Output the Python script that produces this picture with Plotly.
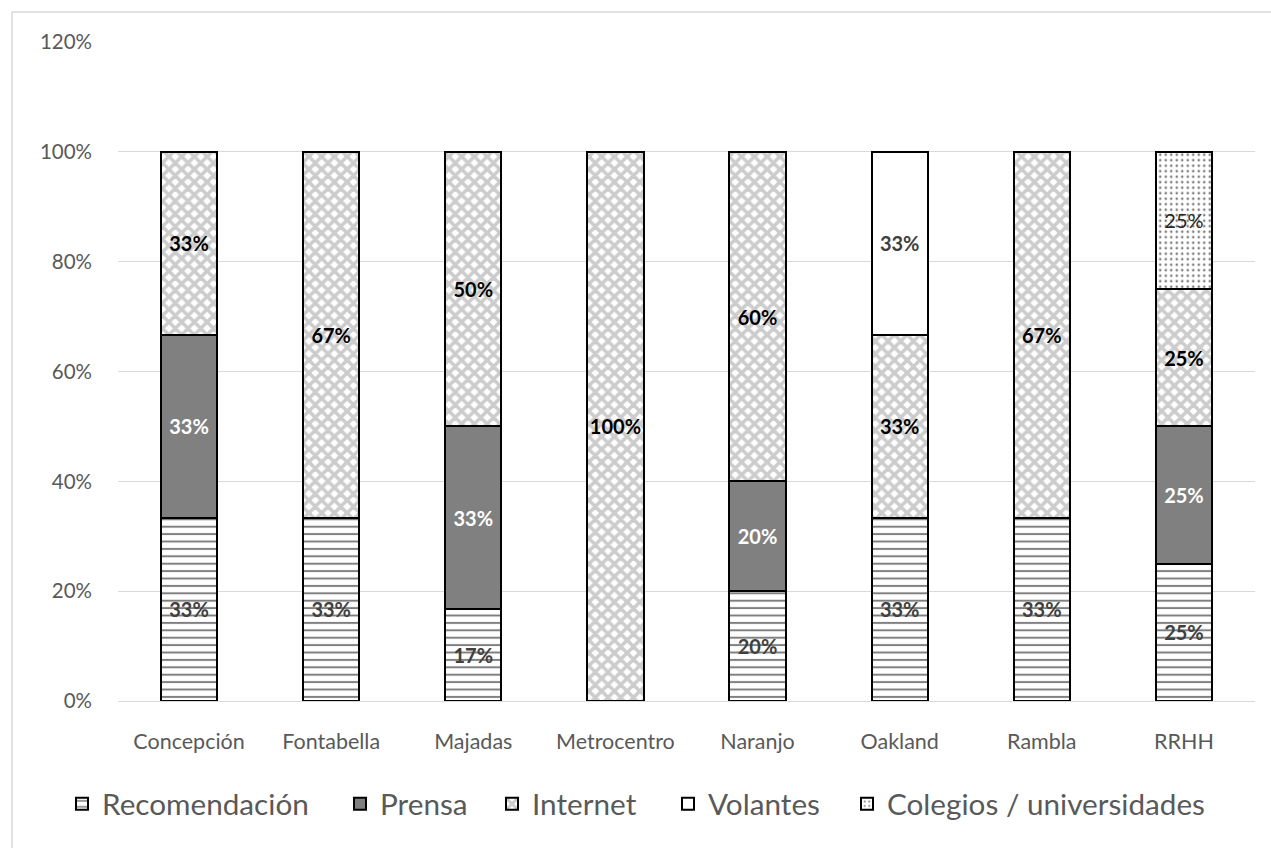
import plotly.graph_objects as go

categories = ["Concepción", "Fontabella", "Majadas", "Metrocentro", "Naranjo", "Oakland", "Rambla", "RRHH"]
recomendacion = [1/3, 1/3, 1/6, 0, 0.20, 1/3, 1/3, 0.25]
prensa = [1/3, 0, 1/3, 0, 0.20, 0, 0, 0.25]
internet = [1/3, 2/3, 0.50, 1.00, 0.60, 1/3, 2/3, 0.25]
volantes = [0, 0, 0, 0, 0, 1/3, 0, 0]
colegios = [0, 0, 0, 0, 0, 0, 0, 0.25]

FONT = "Lato"
LBL = 20
L, R, T, B = 118, 16, 42, 147
W, H = 1271, 848
PW = W - L - R
PH = H - T - B

def labels(vals):
    return ["" if v == 0 else f"{round(v*100):.0f}%" for v in vals]

series = [
    ("Recomendación", recomendacion, dict(color="white", pattern=dict(shape="-", fgcolor="#000000", bgcolor="white", size=7.4, solidity=0.27)), dict(color="#404040", size=LBL, family=FONT, weight="bold")),
    ("Prensa", prensa, dict(color="#808080"), dict(color="white", size=LBL, family=FONT, weight="bold")),
    ("Internet", internet, dict(color="white", pattern=dict(shape="x", fgcolor="#999999", bgcolor="white", size=9, solidity=0.64)), dict(color="black", size=LBL, family=FONT, weight="bold")),
    ("Volantes", volantes, dict(color="white"), dict(color="#404040", size=LBL, family=FONT, weight="bold")),
    ("Colegios / universidades", colegios, dict(color="white", pattern=dict(shape=".", fgcolor="#000000", bgcolor="white", size=5.5, solidity=0.17)), dict(color="#262626", size=LBL, family=FONT)),
]

# legend text start (px) of each item
legend_text_x = [103, 381, 533, 709, 888]
legend_y_px = 804

fig = go.Figure()
layout_legends = {}
for i, (name, vals, marker, tfont) in enumerate(series):
    m = dict(marker)
    m["line"] = dict(color="black", width=2)
    lname = "legend" if i == 0 else f"legend{i+1}"
    fig.add_trace(go.Bar(
        name=name, x=categories, y=vals, marker=m,
        text=labels(vals), textposition="inside", insidetextanchor="middle",
        textangle=0, constraintext="none", textfont=tfont,
        hoverinfo="skip", legend=lname,
    ))
    layout_legends[lname] = dict(
        x=(legend_text_x[i] - 41 - L) / PW, xanchor="left",
        y=(H - B - legend_y_px) / PH, yanchor="middle",
        font=dict(size=29.7, color="#595959", family=FONT),
        bgcolor="rgba(0,0,0,0)", borderwidth=0,
    )

fig.update_layout(
    width=W, height=H,
    barmode="stack", bargap=0.605,
    plot_bgcolor="white", paper_bgcolor="white",
    margin=dict(l=L, r=R, t=T, b=B),
    font=dict(family=FONT, color="#595959", size=20),
    showlegend=True,
    shapes=[dict(type="rect", xref="paper", yref="paper",
                 x0=-106/PW, x1=1.0 + 40/PW, y0=-0.3, y1=1 + 30/PH,
                 line=dict(color="#d9d9d9", width=1.5), fillcolor="rgba(0,0,0,0)", layer="below")],
    **layout_legends,
)
fig.update_yaxes(range=[0, 1.2], dtick=0.2, tickformat=".0%", showgrid=True, gridcolor="#d9d9d9",
                 gridwidth=1, zeroline=False, showline=False, ticklabelstandoff=25,
                 tickfont=dict(size=20.5, color="#595959"))
fig.update_xaxes(showline=True, linecolor="#d9d9d9", linewidth=1, ticklabelstandoff=21,
                 tickfont=dict(size=21.5, color="#595959"))

fig.write_html("out.html")
